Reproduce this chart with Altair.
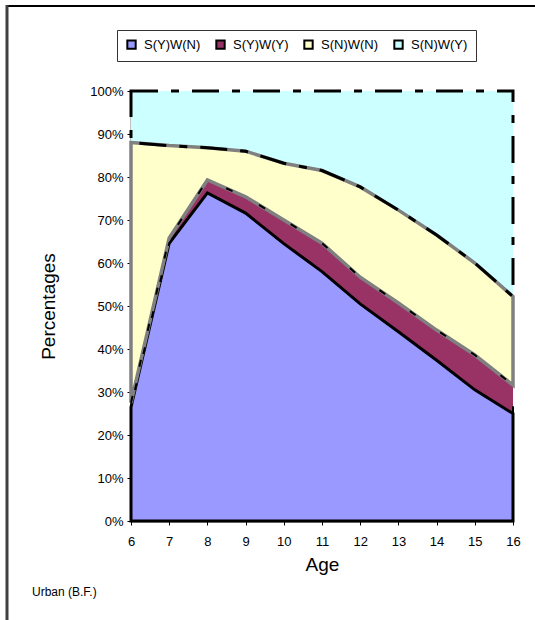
import altair as alt
import pandas as pd

ages = [6, 7, 8, 9, 10, 11, 12, 13, 14, 15, 16]
series_names = ["S(Y)W(N)", "S(Y)W(Y)", "S(N)W(N)", "S(N)W(Y)"]
syw_n = [26.5, 64.6, 76.3, 71.6, 64.5, 58.0, 50.5, 44.0, 37.4, 30.5, 25.0]
syw_y = [1.0, 1.2, 3.0, 3.8, 5.5, 6.6, 6.2, 6.7, 7.0, 8.1, 6.6]
snw_n = [60.5, 21.5, 7.5, 10.6, 13.2, 16.9, 21.0, 21.6, 22.1, 21.4, 20.6]
snw_y = [12.0, 12.7, 13.2, 14.0, 16.8, 18.5, 22.3, 27.7, 33.5, 40.0, 47.8]
colors = ["#9999FF", "#993366", "#FFFFCC", "#CCFFFF"]

rows = []
base = [0.0] * len(ages)
for name, vals in zip(series_names, [syw_n, syw_y, snw_n, snw_y]):
    for i, a in enumerate(ages):
        rows.append({"series": name, "age": a, "y0": base[i], "y1": base[i] + vals[i]})
    base = [b + v for b, v in zip(base, vals)]
df = pd.DataFrame(rows)

W, H = 382, 430
xs = alt.X("age:Q", scale=alt.Scale(domain=[6, 16], nice=False, zero=False),
           axis=alt.Axis(values=ages, title="Age", format="d", grid=False,
                         tickSize=4, labelPadding=10, titleY=49, titleX=W / 2,
                         labelOverlap=False, labelFlush=False, labelFontSize=13,
                         titleBaseline="alphabetic", titleFontSize=19, titleFontWeight="normal"))
ys = alt.Y("y1:Q", scale=alt.Scale(domain=[0, 100], nice=False),
           axis=alt.Axis(values=list(range(0, 101, 10)), labelExpr="datum.value + '%'",
                         title="Percentages", grid=False, tickSize=4, labelPadding=4,
                         labelOverlap=False, labelFlush=False, labelFontSize=13,
                         titleX=-83, titleY=H / 2, titleBaseline="middle", titleAlign="center",
                         titleFontSize=19, titleFontWeight="normal"))

color = alt.Color("series:N", scale=alt.Scale(domain=series_names, range=colors),
                  legend=alt.Legend(title=None, orient="none", legendX=-14, legendY=-61,
                                    direction="horizontal", columns=4, symbolType="square",
                                    symbolSize=70, symbolStrokeColor="black", symbolStrokeWidth=2,
                                    labelFontSize=13, columnPadding=11, labelOffset=6,
                                    padding=8, strokeColor="#333333", fillColor="white"))

fills = []
for name in series_names:
    fills.append(
        alt.Chart(df[df.series == name]).mark_area(strokeWidth=0, opacity=1)
        .encode(x=xs, y=ys, y2="y0:Q", color=color)
    )

def stroke_layer(name, stroke, width, dash=None):
    kw = dict(fillOpacity=0, stroke=stroke, strokeWidth=width)
    if dash:
        kw["strokeDash"] = dash
    return alt.Chart(df[df.series == name]).mark_area(**kw).encode(x=xs, y=ys, y2="y0:Q")

strokes = [
    stroke_layer("S(Y)W(N)", "black", 3),
    stroke_layer("S(N)W(N)", "#808080", 3.5),
    stroke_layer("S(Y)W(Y)", "black", 2, [7, 30]),
    stroke_layer("S(N)W(Y)", "black", 3, [27, 13, 8, 13]),
]

one = pd.DataFrame({"a": [0]})
frame_top = alt.Chart(one).mark_rule(color="black", strokeWidth=2).encode(
    x=alt.value(-124), x2=alt.value(404), y=alt.value(-85))
frame_left = alt.Chart(one).mark_rule(color="#404040", strokeWidth=3).encode(
    x=alt.value(-124), y=alt.value(-86), y2=alt.value(529))
note = alt.Chart(one).mark_text(text="Urban (B.F.)", align="left", baseline="middle",
                                fontSize=12, font="Liberation Sans", color="black").encode(
    x=alt.value(-99), y=alt.value(501))

chart = alt.layer(*fills, *strokes, frame_top, frame_left, note).properties(
    width=W, height=H,
    autosize=alt.AutoSizeParams(type="none"),
    padding={"left": 131, "top": 91, "right": 22, "bottom": 99},
).configure(font="Liberation Sans", background="white").configure_view(
    stroke=None).configure_axis(
    domainColor="black", domainWidth=1.5, tickColor="black", labelColor="black",
    titleColor="black", labelFont="Liberation Sans",
    titleFont="Liberation Sans").configure_legend(labelColor="black", labelFont="Liberation Sans")

chart.save("out.html", embed_options={"renderer": "svg", "actions": False})
